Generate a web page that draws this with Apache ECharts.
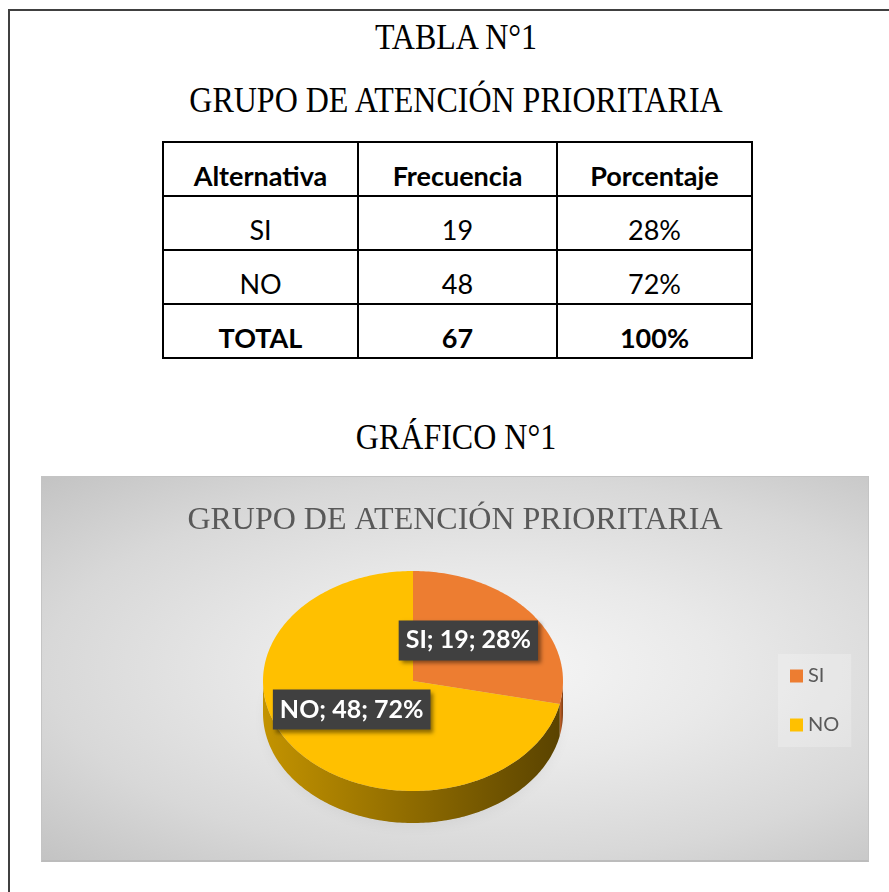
<!DOCTYPE html>
<html>
<head>
    <meta charset="UTF-8">
    <title>Grupo de atención prioritaria</title>
    <script src="https://cdn.jsdelivr.net/npm/echarts@6/dist/echarts.min.js"></script>
    <style>
        html, body {
            margin: 0;
            padding: 0;
            background: #fff;
            width: 889px;
            height: 892px;
            overflow: hidden;
            position: relative;
        }
        .frame {
            position: absolute;
            left: 8px;
            top: 9px;
            width: 900px;
            height: 900px;
            border-left: 2px solid #404040;
            border-top: 2px solid #404040;
        }
        .heading {
            position: absolute;
            left: 156px;
            width: 600px;
            text-align: center;
            font-family: "Liberation Serif", "Times New Roman", serif;
            font-size: 32px;
            line-height: 32px;
            color: #000;
            transform: scaleY(1.12);
            white-space: nowrap;
        }
        #tabla {
            position: absolute;
            left: 162px;
            top: 141px;
            border-collapse: collapse;
            font-family: Lato, "Open Sans", sans-serif;
            font-size: 27px;
            line-height: 30px;
            color: #000;
        }
        #tabla td {
            border: 2px solid #000;
            height: 48px;
            padding: 0 0 4px 0;
            text-align: center;
            vertical-align: bottom;
        }
        #tabla .b { font-weight: bold; }
        #chart {
            position: absolute;
            left: 41px;
            top: 476px;
            width: 828px;
            height: 386px;
            box-sizing: border-box;
            border: 1px solid #c4c4c4;
            border-bottom: 2px solid #bcbcbc;
            background: radial-gradient(ellipse at 55% 50%, #f6f6f6 0%, #e9e9e9 35%, #d8d8d8 70%, #c3c3c3 100%);
        }
    </style>
</head>
<body>
    <div class="frame"></div>
    <div class="heading" style="top:21px">TABLA N°1</div>
    <div class="heading" style="top:84px">GRUPO DE ATENCIÓN PRIORITARIA</div>
    <table id="tabla"></table>
    <div class="heading" style="top:421px">GRÁFICO N°1</div>
    <div id="chart"></div>

    <script>
        // datos
        const headers = ['Alternativa', 'Frecuencia', 'Porcentaje'];
        const categories = ['SI', 'NO'];
        const frequencies = [19, 48];
        const percentages = ['28%', '72%'];
        const totalRow = ['TOTAL', 67, '100%'];
        const chartTitle = 'GRUPO DE ATENCIÓN PRIORITARIA';

        // colores
        const topColors = ['#ED7D31', '#FFC000'];
        const sideColors = [['#c9652a', '#7d3c12'], ['#c39300', '#5a4300']];

        // tabla
        const colWidths = [195, 199, 195];
        const tabla = document.getElementById('tabla');
        function addRow(cells, bold) {
            const tr = document.createElement('tr');
            cells.forEach((c, i) => {
                const td = document.createElement('td');
                td.textContent = c;
                td.style.width = (colWidths[i] - 2) + 'px';
                if (bold) td.className = 'b';
                tr.appendChild(td);
            });
            tabla.appendChild(tr);
        }
        addRow(headers, true);
        categories.forEach((c, i) => addRow([c, frequencies[i], percentages[i]], false));
        addRow(totalRow, true);

        // pie 3D simulado
        const cx = 371, cy = 204, rx = 150, ry = 110, depth = 32;
        const total = frequencies.reduce((a, b) => a + b, 0);

        function pt(theta, k, dy) {
            return [cx + rx * k * Math.sin(theta), cy - ry * k * Math.cos(theta) + (dy || 0)];
        }
        function arcPoints(a, b, dy) {
            const pts = [];
            const n = Math.max(2, Math.ceil((b - a) / (Math.PI / 180)));
            for (let j = 0; j <= n; j++) pts.push(pt(a + (b - a) * j / n, 1, dy));
            return pts;
        }

        function renderItem(params, api) {
            const i = params.dataIndex;
            let before = 0;
            for (let j = 0; j < i; j++) before += frequencies[j];
            const start = before / total * Math.PI * 2;
            const end = (before + api.value(0)) / total * Math.PI * 2;
            const children = [];

            if (i === 0) {
                children.push({
                    type: 'ellipse',
                    z2: -5,
                    shape: { cx: cx, cy: cy + depth + 2, rx: rx - 2, ry: ry - 2 },
                    style: {
                        fill: 'rgba(0,0,0,0.15)',
                        shadowColor: 'rgba(0,0,0,0.35)',
                        shadowBlur: 14,
                        shadowOffsetY: 3
                    }
                });
            }

            const a = Math.max(start, Math.PI / 2);
            const b = Math.min(end, Math.PI * 1.5);
            if (a < b) {
                const topEdge = arcPoints(a, b, 0);
                const bottomEdge = arcPoints(a, b, depth).reverse();
                children.push({
                    type: 'polygon',
                    z2: 0,
                    shape: { points: topEdge.concat(bottomEdge) },
                    style: {
                        fill: new echarts.graphic.LinearGradient(1, 0, 0, 0, [
                            { offset: 0, color: sideColors[i][1] },
                            { offset: 1, color: sideColors[i][0] }
                        ])
                    }
                });
            }

            children.push({
                type: 'polygon',
                z2: 10,
                shape: { points: [[cx, cy]].concat(arcPoints(start, end, 0)) },
                style: { fill: topColors[i] }
            });

            const mid = (start + end) / 2;
            const lp = pt(mid, 0.5, -6);
            children.push({
                type: 'text',
                z2: 20,
                x: lp[0] - 3,
                y: lp[1],
                style: {
                    text: categories[i] + '; ' + api.value(0) + '; ' + percentages[i],
                    fill: '#ffffff',
                    font: 'bold 25px Lato, "Open Sans", sans-serif',
                    lineHeight: 26,
                    align: 'center',
                    verticalAlign: 'middle',
                    backgroundColor: '#404040',
                    padding: [7, 7, 7, 7],
                    shadowColor: 'rgba(0,0,0,0.45)',
                    shadowBlur: 4,
                    shadowOffsetX: 3,
                    shadowOffsetY: 3
                }
            });

            return { type: 'group', children: children };
        }

        const chart = echarts.init(document.getElementById('chart'));
        chart.setOption({
            backgroundColor: 'transparent',
            animation: false,
            title: {
                text: chartTitle,
                left: 'center',
                top: 23,
                textStyle: {
                    fontFamily: '"Liberation Serif", "Times New Roman", serif',
                    fontSize: 32,
                    fontWeight: 'normal',
                    color: '#595959'
                }
            },
            legend: {
                data: categories,
                orient: 'vertical',
                left: 736,
                top: 177,
                padding: [12, 12, 12, 12],
                itemGap: 29,
                itemWidth: 13,
                itemHeight: 13,
                icon: 'rect',
                backgroundColor: 'rgba(255,255,255,0.22)',
                selectedMode: false,
                textStyle: {
                    fontFamily: 'Lato, "Open Sans", sans-serif',
                    fontSize: 20,
                    lineHeight: 20,
                    color: '#595959'
                }
            },
            series: [
                {
                    type: 'custom',
                    coordinateSystem: 'none',
                    renderItem: renderItem,
                    data: frequencies.map(v => [v]),
                    silent: true
                },
                {
                    // solo para la leyenda
                    type: 'pie',
                    radius: 0,
                    center: [-100, -100],
                    label: { show: false },
                    silent: true,
                    data: categories.map((c, i) => ({
                        name: c,
                        value: frequencies[i],
                        itemStyle: { color: topColors[i] }
                    }))
                }
            ]
        });

        window.addEventListener('resize', () => chart.resize());
    </script>
</body>
</html>
